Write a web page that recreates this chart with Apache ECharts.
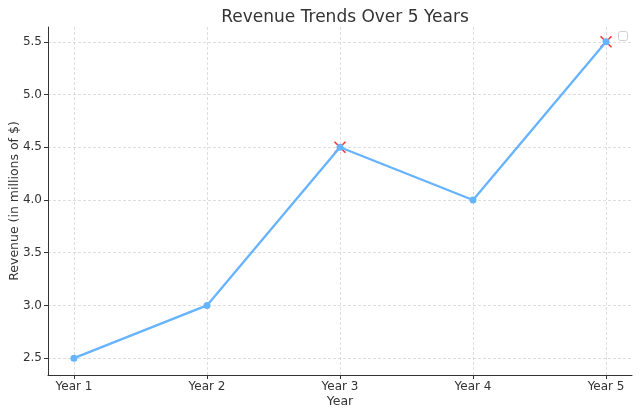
<!DOCTYPE html>
<html><head><meta charset="utf-8">
<script src="https://cdn.jsdelivr.net/npm/echarts@6/dist/echarts.min.js"></script>
<style>html,body{margin:0;padding:0;background:#fff}#c{width:640px;height:415px}</style>
</head><body><div id="c"></div>
<script>
const categories = ['Year 1', 'Year 2', 'Year 3', 'Year 4', 'Year 5'];
const revenue = [2.5, 3.0, 4.5, 4.0, 5.5];
const highlighted = ['Year 3', 'Year 5'];
const yTicks = [2.5, 3.0, 3.5, 4.0, 4.5, 5.0, 5.5];

const xIdx = categories.map((c, i) => i + 1);
const lineData = revenue.map((v, i) => [i + 1, v]);
const hiData = highlighted.map(c => { const i = categories.indexOf(c); return [i + 1, revenue[i]]; });
const font = 'DejaVu Sans';
const chart = echarts.init(document.getElementById('c'), null, {renderer: 'canvas'});
chart.setOption({
  animation: false,
  textStyle: {fontFamily: font},
  title: {text: 'Revenue Trends Over 5 Years', left: 340, textAlign: 'center', top: 4,
    textStyle: {fontFamily: font, fontSize: 17, fontWeight: 'normal', color: '#333'}},
  grid: {left: 48, right: 8, top: 27, bottom: 40, containLabel: false, outerBoundsMode: 'none'},
  xAxis: {type: 'value', min: 0.805, max: 5.195,
    name: 'Year', nameLocation: 'middle', nameGap: 20, nameMoveOverlap: false,
    nameTextStyle: {fontFamily: font, fontSize: 12.5, color: '#333'},
    axisLine: {show: true, lineStyle: {color: '#333', width: 1}},
    axisTick: {show: true, length: 4, customValues: xIdx, lineStyle: {color: '#333'}},
    axisLabel: {customValues: xIdx, formatter: v => categories[Math.round(v) - 1], fontFamily: font, fontSize: 12, color: '#333', margin: 6},
    splitLine: {show: true, lineStyle: {color: '#d5d5d5', type: [3, 2], width: 0.8}}
  },
  yAxis: {type: 'value', min: 2.34, max: 5.64,
    name: 'Revenue (in millions of $)', nameLocation: 'middle', nameGap: 27, nameMoveOverlap: false,
    nameTextStyle: {fontFamily: font, fontSize: 12.5, color: '#333'},
    axisLine: {show: true, lineStyle: {color: '#333', width: 1}},
    axisTick: {show: true, length: 4, customValues: yTicks, lineStyle: {color: '#333'}},
    axisLabel: {customValues: yTicks, formatter: v => v.toFixed(1), fontFamily: font, fontSize: 12, color: '#333', margin: 6},
    splitLine: {show: true, lineStyle: {color: '#d5d5d5', type: [3, 2], width: 0.8}}
  },
  series: [
    {type: 'scatter', data: hiData, symbol: 'path://M0,0L10,10M10,0L0,10', symbolSize: 11, z: 1,
     itemStyle: {color: 'none', borderColor: '#ff0000', borderWidth: 1.6}},
    {type: 'line', data: lineData, symbol: 'circle', symbolSize: 7, z: 2,
     lineStyle: {color: '#66b3ff', width: 2.3}, itemStyle: {color: '#66b3ff'}}
  ],
  graphic: [{type: 'rect', left: 618, top: 31, shape: {width: 9, height: 9, r: 2},
    style: {fill: '#fff', stroke: '#d0d0d0', lineWidth: 1}}]
});
</script></body></html>
